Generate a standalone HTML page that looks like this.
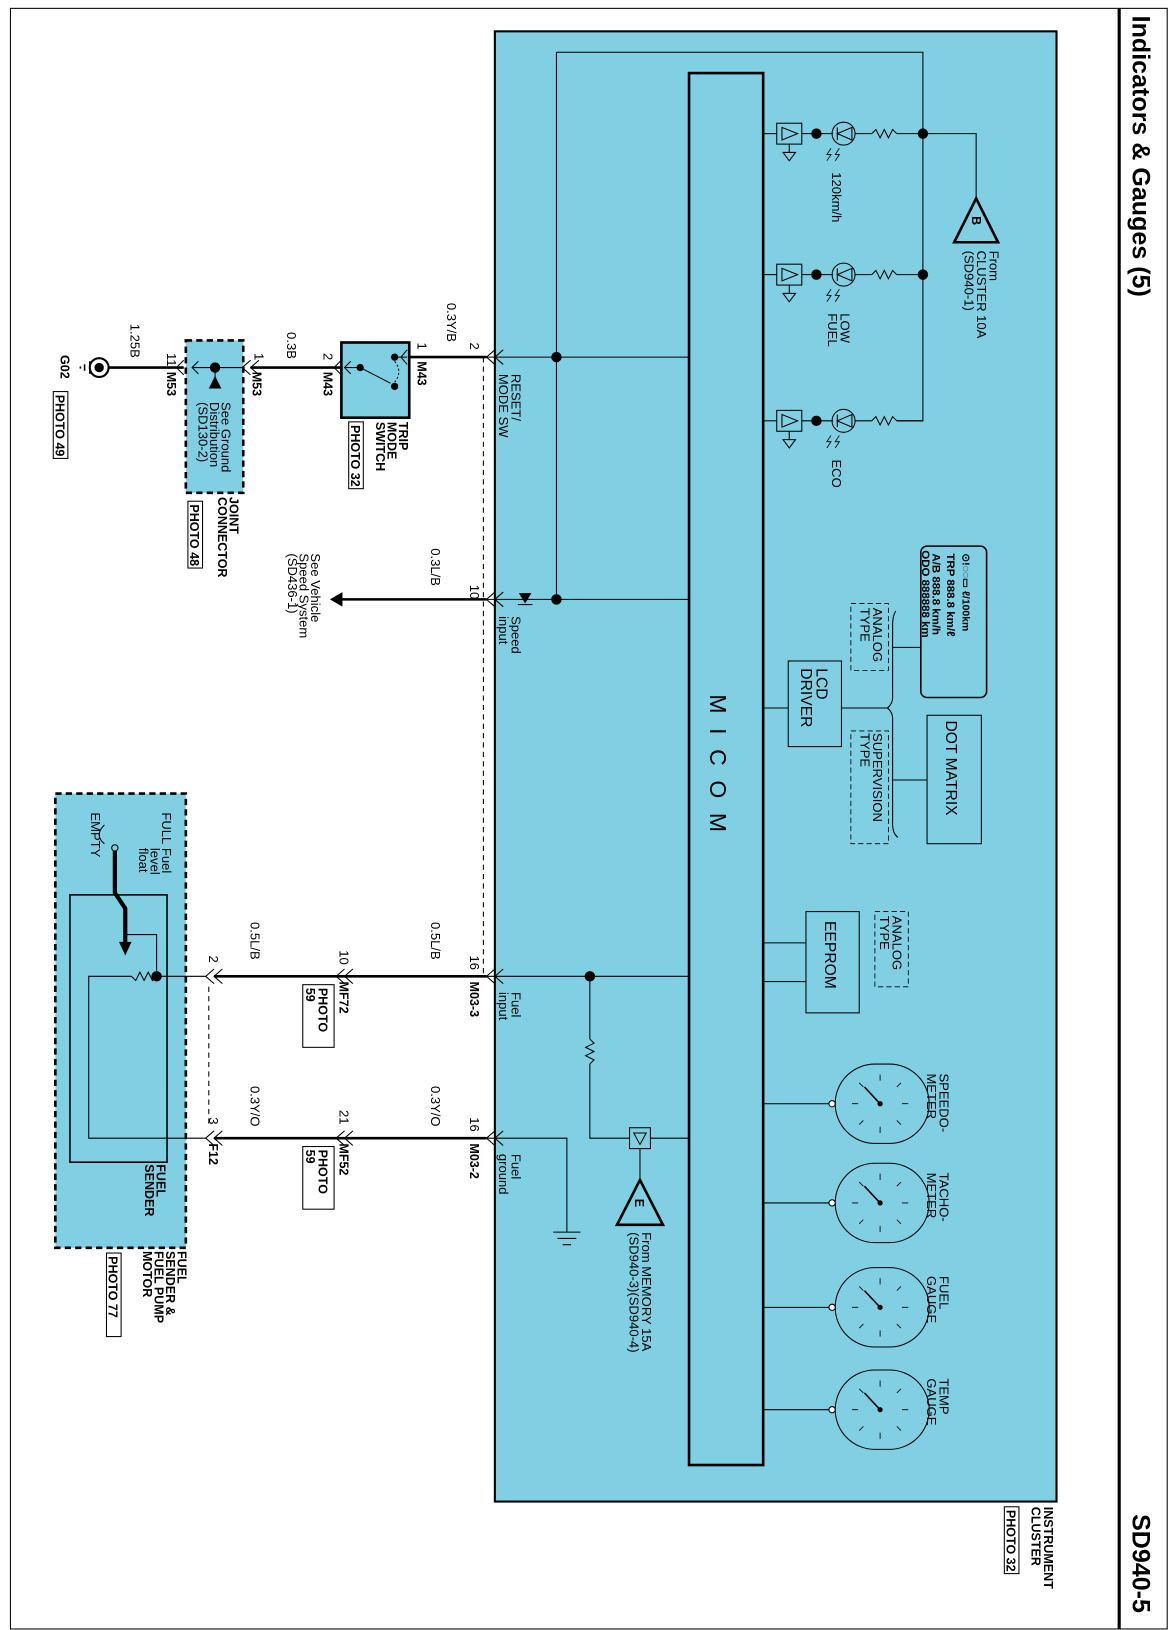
<!DOCTYPE html>
<html><head><meta charset="utf-8"><style>
html,body{margin:0;padding:0;background:#fff}
svg{display:block}
text{font-family:"Liberation Sans",sans-serif;fill:#000}
.s{font-size:12.5px}
.b{font-size:12px;font-weight:bold}
</style></head><body>
<svg width="1172" height="1630" viewBox="0 0 1122.6 1561" preserveAspectRatio="none" xmlns="http://www.w3.org/2000/svg">
<defs>
<g id="res"><polyline points="0,0 4,-4 8,4 12,-4 16,4 20,-4 24,0" fill="none" stroke="#000" stroke-width="1"/></g>
<g id="ledrow">
 <rect x="744" y="-10" width="24" height="20" fill="none" stroke="#000"/>
 <polygon points="749,-6 749,6 764,0" fill="none" stroke="#000"/>
 <line x1="731" y1="0" x2="744" y2="0" stroke="#000"/>
 <line x1="756" y1="10" x2="756" y2="18" stroke="#000"/>
 <polygon points="750,18 762,18 756,26" fill="none" stroke="#000"/>
 <line x1="768" y1="0" x2="798" y2="0" stroke="#000"/>
 <circle cx="782" cy="0" r="5" fill="#000"/>
 <circle cx="808" cy="0" r="11" fill="none" stroke="#000"/>
 <polygon points="816,-6 816,6 802,0" fill="none" stroke="#000"/>
 <line x1="802" y1="-6" x2="802" y2="6" stroke="#000"/>
 <path d="M796,14 l-4,6 4,0 -4,6 M804,14 l-4,6 4,0 -4,6" fill="none" stroke="#000" stroke-width="0.8"/>
 <line x1="819" y1="0" x2="835" y2="0" stroke="#000"/>
 <use href="#res" x="835" y="0"/>
 <line x1="859" y1="0" x2="884" y2="0" stroke="#000"/>
</g>
<g id="gauge">
 <rect x="800" y="-38" width="90" height="76" rx="38" ry="38" fill="none" stroke="#000"/>
 <line x1="731" y1="0" x2="797" y2="0" stroke="#000"/>
 <circle cx="797" cy="0" r="3" fill="#fff" stroke="#000"/>
 <circle cx="843" cy="0" r="2.5" fill="#000"/>
 <line x1="843" y1="0" x2="828" y2="-16" stroke="#000" stroke-width="1.5"/>
 <path d="M843,-28 v6 M843,22 v6 M823,-20 l4,4 M863,-20 l-4,4 M823,20 l4,-4 M863,20 l-4,-4 M816,0 h6 M864,0 h6" stroke="#000" stroke-width="0.8"/>
</g>
<g id="conn"><polyline points="8,-7 0,0 8,7" fill="none" stroke="#000"/><polyline points="16,-7 8,0 16,7" fill="none" stroke="#000"/></g>
</defs>

<rect x="10" y="8" width="1108" height="1552" fill="none" stroke="#000" stroke-width="1"/>
<line x1="1072" y1="8" x2="1072" y2="1560" stroke="#000" stroke-width="3"/>
<text transform="translate(1085,15) rotate(90)" style="font-size:24px;font-weight:bold">Indicators &amp; Gauges (5)</text>
<text transform="translate(1085,1450) rotate(90)" style="font-size:24px;font-weight:bold">SD940-5</text>

<rect x="474" y="30" width="538" height="1408" fill="#80cfe3" stroke="#000" stroke-width="2"/>
<text class="b" transform="translate(1000,1443) rotate(90)"><tspan x="0" dy="0">INSTRUMENT</tspan><tspan x="0" dy="12">CLUSTER</tspan></text>
<rect x="962" y="1443" width="14" height="64" fill="#fff" stroke="#000"/>
<text class="b" transform="translate(964,1446) rotate(90)">PHOTO 32</text>

<polyline points="533,574 533,50 884,50 884,403 859,403" fill="none" stroke="#000"/>
<rect x="660" y="70" width="71" height="1333" fill="#80cfe3" stroke="#000" stroke-width="2.5"/>
<text transform="translate(680,665) rotate(90)" style="font-size:22px;letter-spacing:14px">MICOM</text>
<use href="#ledrow" x="0" y="128"/>
<use href="#ledrow" x="0" y="263"/>
<use href="#ledrow" x="0" y="403"/>
<circle cx="884" cy="128" r="5" fill="#000"/>
<circle cx="884" cy="263" r="5" fill="#000"/>
<text class="s" transform="translate(797,165) rotate(90)">120km/h</text>
<text class="s" transform="translate(805,300) rotate(90)"><tspan x="0">LOW</tspan><tspan x="0" dy="12">FUEL</tspan></text>
<text class="s" transform="translate(797,440) rotate(90)">ECO</text>
<polyline points="884,128 935,128 935,192" fill="none" stroke="#000"/>
<polygon points="935,190 914,232 956,232" fill="none" stroke="#000" stroke-width="2.5"/>
<text class="b" transform="translate(931,207) rotate(90)">B</text>
<text class="s" transform="translate(948,240) rotate(90)"><tspan x="0">From</tspan><tspan x="0" dy="12">CLUSTER 10A</tspan><tspan x="0" dy="12">(SD940-1)</tspan></text>

<rect x="882" y="523" width="63" height="145" rx="6" fill="none" stroke="#000" stroke-width="1.5"/>
<text transform="translate(922,530) rotate(90)" style="font-size:10px;font-weight:bold">⊙!◌◌▭ ℓ/100km</text>
<text transform="translate(907,530) rotate(90)" style="font-size:11px;font-weight:bold">TRP 888.8 km/ℓ</text>
<text transform="translate(893,530) rotate(90)" style="font-size:11px;font-weight:bold">A/B 888.8 km/h</text>
<text transform="translate(883,527) rotate(90)" style="font-size:11px;font-weight:bold">ODO 888888 km</text>
<rect x="815" y="578" width="36" height="64" fill="none" stroke="#000" stroke-dasharray="5,3" stroke-width="0.8"/>
<text class="s" transform="translate(836,582) rotate(90)"><tspan x="0">ANALOG</tspan><tspan x="0" dy="12">TYPE</tspan></text>
<rect x="815" y="700" width="36" height="108" fill="none" stroke="#000" stroke-dasharray="5,3" stroke-width="0.8"/>
<text class="s" transform="translate(836,702) rotate(90)"><tspan x="0">SUPERVISION</tspan><tspan x="0" dy="12">TYPE</tspan></text>
<path d="M858,585 Q855,590 855,598 L855,668 Q855,674 850,678 Q855,682 855,688 L855,790 Q855,798 860,802" fill="none" stroke="#000"/>
<line x1="855" y1="620" x2="882" y2="620" stroke="#000"/>
<line x1="855" y1="747" x2="888" y2="747" stroke="#000"/>
<line x1="806" y1="678" x2="850" y2="678" stroke="#000"/>
<rect x="755" y="633" width="51" height="82" fill="none" stroke="#000"/>
<text transform="translate(782,640) rotate(90)" style="font-size:15px"><tspan x="0">LCD</tspan><tspan x="0" dy="15">DRIVER</tspan></text>
<line x1="731" y1="678" x2="755" y2="678" stroke="#000"/>
<rect x="888" y="685" width="52" height="123" fill="none" stroke="#000"/>
<text transform="translate(906,690) rotate(90)" style="font-size:15px">DOT MATRIX</text>

<rect x="772" y="873" width="51" height="97" fill="none" stroke="#000"/>
<text transform="translate(790,882) rotate(90)" style="font-size:15px">EEPROM</text>
<line x1="731" y1="903" x2="772" y2="903" stroke="#000"/>
<line x1="731" y1="940" x2="772" y2="940" stroke="#000"/>
<rect x="838" y="873" width="32" height="72" fill="none" stroke="#000" stroke-dasharray="5,3" stroke-width="0.8"/>
<text class="s" transform="translate(855,877) rotate(90)"><tspan x="0">ANALOG</tspan><tspan x="0" dy="12">TYPE</tspan></text>

<use href="#gauge" x="0" y="1057"/>
<use href="#gauge" x="0" y="1152"/>
<use href="#gauge" x="0" y="1252"/>
<use href="#gauge" x="0" y="1350"/>
<text class="s" transform="translate(900,1028) rotate(90)"><tspan x="0">SPEEDO-</tspan><tspan x="0" dy="12">METER</tspan></text>
<text class="s" transform="translate(900,1123) rotate(90)"><tspan x="0">TACHO-</tspan><tspan x="0" dy="12">METER</tspan></text>
<text class="s" transform="translate(900,1222) rotate(90)"><tspan x="0">FUEL</tspan><tspan x="0" dy="12">GAUGE</tspan></text>
<text class="s" transform="translate(900,1320) rotate(90)"><tspan x="0">TEMP</tspan><tspan x="0" dy="12">GAUGE</tspan></text>

<line x1="466" y1="342" x2="660" y2="342" stroke="#000"/>
<circle cx="533" cy="342" r="5" fill="#000"/>
<line x1="466" y1="574" x2="660" y2="574" stroke="#000"/>
<circle cx="533" cy="574" r="5" fill="#000"/>
<polygon points="497,568 509,568 503,578" fill="#000"/>
<line x1="496" y1="579" x2="510" y2="579" stroke="#000"/>
<line x1="466" y1="935" x2="660" y2="935" stroke="#000"/>
<circle cx="565" cy="935" r="5" fill="#000"/>
<line x1="565" y1="935" x2="565" y2="995" stroke="#000"/>
<g transform="translate(565,995) rotate(90)"><use href="#res"/></g>
<polyline points="565,1019 565,1090 603,1090" fill="none" stroke="#000"/>
<rect x="603" y="1080" width="20" height="20" fill="none" stroke="#000"/>
<polygon points="607,1085 619,1085 613,1096" fill="none" stroke="#000"/>
<line x1="623" y1="1090" x2="660" y2="1090" stroke="#000"/>
<line x1="613" y1="1100" x2="613" y2="1130" stroke="#000"/>
<polygon points="613,1130 591,1173 635,1173" fill="none" stroke="#000" stroke-width="2.5"/>
<text class="b" transform="translate(608,1148) rotate(90)">E</text>
<text class="s" transform="translate(615,1180) rotate(90)"><tspan x="0">From MEMORY 15A</tspan><tspan x="0" dy="12">(SD940-3)(SD940-4)</tspan></text>
<polyline points="466,1090 543,1090 543,1180" fill="none" stroke="#000"/>
<path d="M530,1180 h26 M534,1186 h18 M539,1192 h8" stroke="#000"/>
<text class="s" transform="translate(490,358) rotate(90)"><tspan x="0">RESET/</tspan><tspan x="0" dy="12">MODE SW</tspan></text>
<text class="s" transform="translate(490,590) rotate(90)"><tspan x="0">Speed</tspan><tspan x="0" dy="12">input</tspan></text>
<text class="s" transform="translate(490,950) rotate(90)"><tspan x="0">Fuel</tspan><tspan x="0" dy="12">input</tspan></text>
<text class="s" transform="translate(490,1105) rotate(90)"><tspan x="0">Fuel</tspan><tspan x="0" dy="12">ground</tspan></text>

<use href="#conn" x="466" y="342"/>
<use href="#conn" x="466" y="574"/>
<use href="#conn" x="466" y="935"/>
<use href="#conn" x="466" y="1090"/>
<line x1="463" y1="342" x2="463" y2="935" stroke="#000" stroke-dasharray="5,4"/>

<line x1="392" y1="342" x2="466" y2="342" stroke="#000" stroke-width="2.5"/>
<text class="s" transform="translate(450,328) rotate(90)">2</text>
<text class="s" transform="translate(428,290) rotate(90)">0.3Y/B</text>
<text class="s" transform="translate(400,328) rotate(90)">1</text>
<text class="b" transform="translate(400,346) rotate(90)">M43</text>
<rect x="327" y="328" width="65" height="72" fill="#80cfe3" stroke="#000" stroke-width="2.5"/>
<polyline points="390,335 384,342 390,349" fill="none" stroke="#000"/>
<line x1="330" y1="352" x2="345" y2="352" stroke="#000"/>
<polyline points="336,346 330,352 336,358" fill="none" stroke="#000"/>
<circle cx="345" cy="352" r="3.5" fill="#000"/><circle cx="378" cy="342" r="3.5" fill="#000"/><circle cx="378" cy="370" r="3.5" fill="#000"/>
<line x1="345" y1="352" x2="374" y2="367" stroke="#000"/>
<line x1="378" y1="342" x2="390" y2="342" stroke="#000"/>
<path d="M378,346 q8,10 0,20" fill="none" stroke="#000" stroke-dasharray="2,2"/>
<text class="b" transform="translate(382,404) rotate(90)"><tspan x="0">TRIP</tspan><tspan x="0" dy="11">MODE</tspan><tspan x="0" dy="11">SWITCH</tspan></text>
<rect x="334" y="404" width="14" height="64" fill="#fff" stroke="#000"/>
<text class="b" transform="translate(336,407) rotate(90)">PHOTO 32</text>
<line x1="240" y1="352" x2="327" y2="352" stroke="#000" stroke-width="2.5"/>
<polyline points="327,345 320,352 327,359" fill="none" stroke="#000"/>
<text class="s" transform="translate(310,338) rotate(90)">2</text>
<text class="b" transform="translate(310,356) rotate(90)">M43</text>
<text class="s" transform="translate(275,318) rotate(90)">0.3B</text>
<rect x="178" y="326" width="55" height="146" fill="#80cfe3" stroke="#000" stroke-width="2.5" stroke-dasharray="6,4"/>
<use href="#conn" x="232" y="352"/>
<line x1="184" y1="352" x2="232" y2="352" stroke="#000"/>
<polyline points="190,346 184,352 190,358" fill="none" stroke="#000"/>
<circle cx="206" cy="352" r="5" fill="#000"/>
<line x1="206" y1="352" x2="206" y2="362" stroke="#000"/>
<polygon points="206,360 200,372 212,372" fill="#000"/>
<text class="s" transform="translate(212,385) rotate(90)"><tspan x="0">See Ground</tspan><tspan x="0" dy="11">Distribution</tspan><tspan x="0" dy="11">(SD130-2)</tspan></text>
<text class="s" transform="translate(244,338) rotate(90)">1</text>
<text class="b" transform="translate(242,356) rotate(90)">M53</text>
<text class="b" transform="translate(220,476) rotate(90)"><tspan x="0">JOINT</tspan><tspan x="0" dy="11">CONNECTOR</tspan></text>
<rect x="180" y="480" width="14" height="64" fill="#fff" stroke="#000"/>
<text class="b" transform="translate(182,483) rotate(90)">PHOTO 48</text>
<line x1="104" y1="352" x2="176" y2="352" stroke="#000" stroke-width="2.5"/>
<polyline points="176,345 169,352 176,359" fill="none" stroke="#000"/>
<text class="s" transform="translate(160,338) rotate(90)">11</text>
<text class="b" transform="translate(160,356) rotate(90)">M53</text>
<text class="s" transform="translate(125,310) rotate(90)">1.25B</text>
<circle cx="95" cy="352" r="9" fill="none" stroke="#000" stroke-width="2"/>
<circle cx="95" cy="352" r="4.5" fill="#000"/>
<path d="M86,346 v12 M81,349 v6 M77,351 v2" stroke="#000" stroke-width="1.5"/>
<text class="b" transform="translate(58,340) rotate(90)">G02</text>
<rect x="51" y="375" width="14" height="64" fill="#fff" stroke="#000"/>
<text class="b" transform="translate(53,378) rotate(90)">PHOTO 49</text>

<line x1="320" y1="574" x2="466" y2="574" stroke="#000" stroke-width="2.5"/>
<polygon points="316,574 328,567 328,581" fill="#000"/>
<text class="s" transform="translate(450,560) rotate(90)">10</text>
<text class="s" transform="translate(413,525) rotate(90)">0.3L/B</text>
<text class="s" transform="translate(298,530) rotate(90)"><tspan x="0">See Vehicle</tspan><tspan x="0" dy="11">Speed System</tspan><tspan x="0" dy="11">(SD436-1)</tspan></text>

<line x1="205" y1="935" x2="466" y2="935" stroke="#000" stroke-width="2.5"/>
<line x1="205" y1="1090" x2="466" y2="1090" stroke="#000" stroke-width="2.5"/>
<use href="#conn" x="322" y="935"/><use href="#conn" x="322" y="1090"/>
<use href="#conn" x="197" y="935"/><use href="#conn" x="197" y="1090"/>
<text class="s" transform="translate(450,915) rotate(90)">16</text>
<text class="b" transform="translate(450,940) rotate(90)">M03-3</text>
<text class="s" transform="translate(413,883) rotate(90)">0.5L/B</text>
<text class="s" transform="translate(325,910) rotate(90)">10</text>
<text class="b" transform="translate(325,940) rotate(90)">MF72</text>
<rect x="290" y="943" width="30" height="60" fill="#fff" stroke="#000"/>
<text class="b" transform="translate(305,946) rotate(90)"><tspan x="0">PHOTO</tspan><tspan x="0" dy="12">59</tspan></text>
<text class="s" transform="translate(240,883) rotate(90)">0.5L/B</text>
<text class="s" transform="translate(200,915) rotate(90)">2</text>
<text class="s" transform="translate(450,1070) rotate(90)">16</text>
<text class="b" transform="translate(450,1095) rotate(90)">M03-2</text>
<text class="s" transform="translate(413,1040) rotate(90)">0.3Y/O</text>
<text class="s" transform="translate(325,1063) rotate(90)">21</text>
<text class="b" transform="translate(325,1095) rotate(90)">MF52</text>
<rect x="290" y="1098" width="30" height="60" fill="#fff" stroke="#000"/>
<text class="b" transform="translate(305,1101) rotate(90)"><tspan x="0">PHOTO</tspan><tspan x="0" dy="12">59</tspan></text>
<text class="s" transform="translate(240,1040) rotate(90)">0.3Y/O</text>
<text class="s" transform="translate(200,1070) rotate(90)">3</text>
<text class="b" transform="translate(200,1095) rotate(90)">F12</text>
<line x1="200" y1="945" x2="200" y2="1080" stroke="#000" stroke-dasharray="5,4"/>

<rect x="53" y="760" width="125" height="435" fill="#80cfe3" stroke="#000" stroke-width="2.5" stroke-dasharray="6,4"/>
<rect x="67" y="857" width="93" height="256" fill="none" stroke="#000" stroke-width="1.5"/>
<line x1="150" y1="935" x2="197" y2="935" stroke="#000"/>
<circle cx="150" cy="935" r="5" fill="#000"/>
<g transform="translate(150,935) rotate(180)"><use href="#res"/></g>
<polyline points="126,935 85,935 85,1090 197,1090" fill="none" stroke="#000"/>
<polyline points="150,935 150,895 120,895" fill="none" stroke="#000"/>
<polyline points="110,815 110,855 120,870 120,905" fill="none" stroke="#000" stroke-width="4"/>
<polygon points="114,902 126,902 120,915" fill="#000"/>
<circle cx="110" cy="812" r="3" fill="none" stroke="#000"/>
<path d="M100,790 q-10,10 0,18" fill="none" stroke="#000"/>
<text class="s" transform="translate(155,778) rotate(90)">FULL</text>
<text class="s" transform="translate(87,778) rotate(90)">EMPTY</text>
<text class="s" transform="translate(155,812) rotate(90)"><tspan x="0">Fuel</tspan><tspan x="0" dy="11">level</tspan><tspan x="0" dy="11">float</tspan></text>
<text class="b" transform="translate(150,1115) rotate(90)"><tspan x="0">FUEL</tspan><tspan x="0" dy="11">SENDER</tspan></text>
<text class="b" transform="translate(170,1198) rotate(90)"><tspan x="0">FUEL</tspan><tspan x="0" dy="11">SENDER &amp;</tspan><tspan x="0" dy="11">FUEL PUMP</tspan><tspan x="0" dy="11">MOTOR</tspan></text>
<rect x="102" y="1200" width="14" height="80" fill="#fff" stroke="#000"/>
<text class="b" transform="translate(104,1203) rotate(90)">PHOTO 77</text>
</svg>
</body></html>
